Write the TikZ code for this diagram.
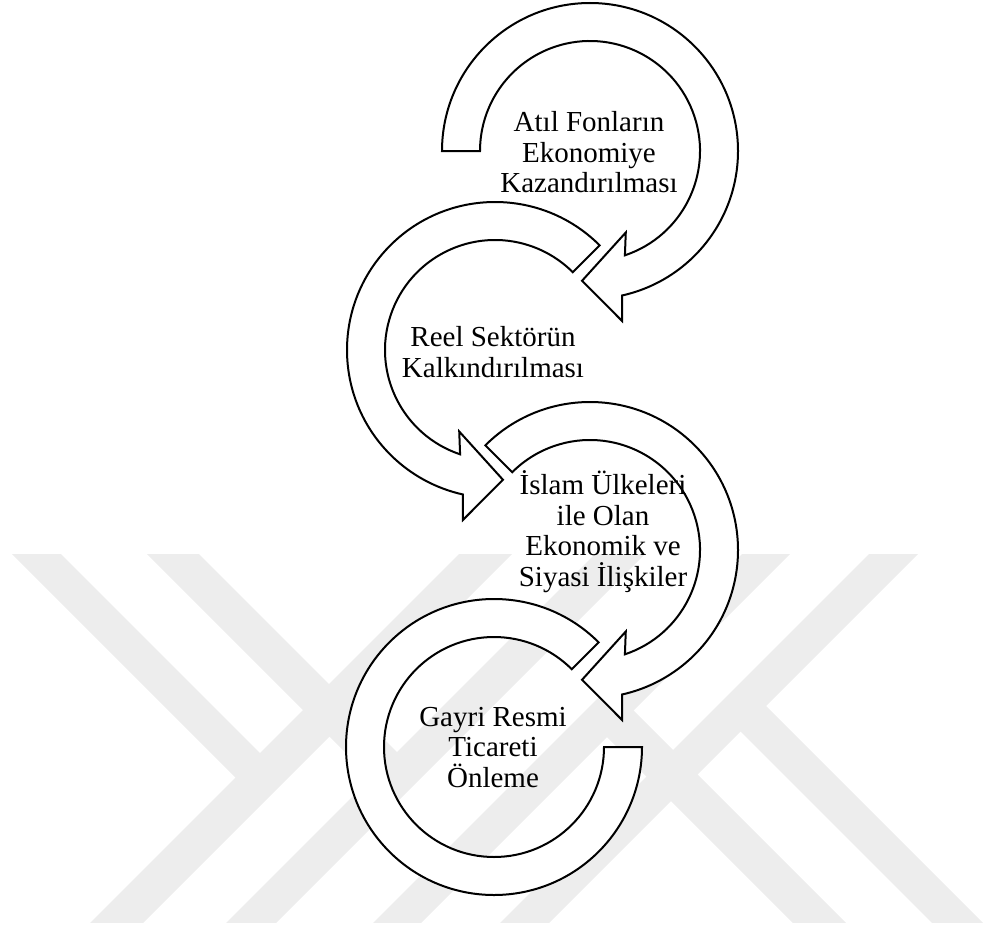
\documentclass[tikz,border=0pt]{standalone}
\usepackage{fontspec}
\setmainfont{Liberation Serif}

\newcommand{\wband}[4]{\fill[wmark] ({(#3+(#1))/2},{-(#3-(#1))/2}) -- ({(#3+(#2))/2},{-(#3-(#2))/2}) -- ({(#4+(#2))/2},{-(#4-(#2))/2}) -- ({(#4+(#1))/2},{-(#4-(#1))/2}) -- cycle;}

\begin{document}
\begin{tikzpicture}[x=1pt,y=1pt,
  wmark/.style={fill=black!7},
  ringarrow/.style={draw=black,fill=white,line width=2pt,line join=miter},
  ringtext/.style={align=center,font=\fontsize{29}{30.5}\selectfont,inner sep=0pt}]

\useasboundingbox (0,0) rectangle (985,-934);

\begin{scope}
\clip (0,-554) rectangle (985,-922);
\wband{-542}{-493}{500}{1040}
\wband{-900}{400}{1013}{1066}
\wband{-407}{-355}{600}{1174}
\wband{-900}{400}{1149}{1199}
\wband{-600}{400}{1296}{1344}
\wband{-500}{450}{1423}{1472}
\wband{-130}{-77}{1320}{2000}
\wband{9}{60}{1447}{2000}
\end{scope}

\begin{scope}[shift={(590,-151)}]
\draw[ringarrow] (180:148) arc[start angle=180,end angle=-77.5,radius=148] -- (-79.3:173) -- (-93.5:130) -- (-66.3:89) -- (-71.5:110) arc[start angle=-71.5,end angle=180,radius=110] -- cycle;
\end{scope}

\begin{scope}[shift={(495,-350)}]
\draw[ringarrow] (45:148) arc[start angle=45,end angle=257.5,radius=148] -- (259.3:173) -- (273.5:130) -- (246.3:89) -- (251.5:110) arc[start angle=251.5,end angle=45,radius=110] -- cycle;
\end{scope}

\begin{scope}[shift={(590,-550)}]
\draw[ringarrow] (135:148) arc[start angle=135,end angle=-77.5,radius=148] -- (-79.3:173) -- (-93.5:130) -- (-66.3:89) -- (-71.5:110) arc[start angle=-71.5,end angle=135,radius=110] -- cycle;
\end{scope}

\begin{scope}[shift={(494,-747)}]
\draw[ringarrow] (45:148) arc[start angle=45,end angle=360,radius=148] -- (0:110) arc[start angle=360,end angle=45,radius=110] -- cycle;
\end{scope}

\node[ringtext] (v1) at (589,-152.5) {Atıl Fonların\\Ekonomiye\\Kazandırılması};
\node[ringtext] (v2) at (493,-352) {Reel Sektörün\\Kalkındırılması};
\node[ringtext] (v3) at (603,-531.5) {İslam Ülkeleri\\ile Olan\\Ekonomik ve\\Siyasi İlişkiler};
\node[ringtext] (v4) at (493,-747.5) {Gayri Resmi\\Ticareti\\Önleme};
\end{tikzpicture}
\end{document}
